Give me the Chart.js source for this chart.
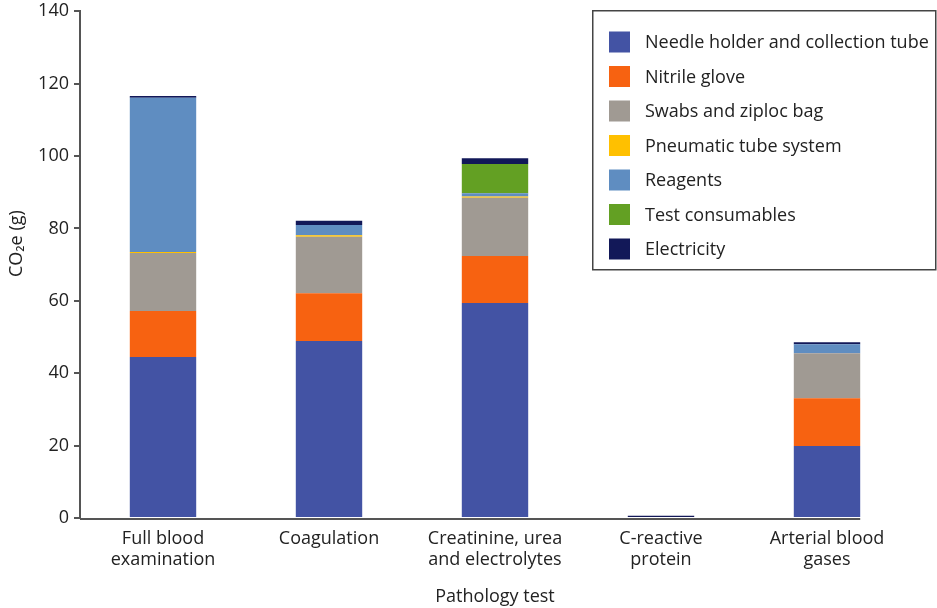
<!DOCTYPE html>
<html>
<head>
<meta charset="utf-8">
<script src="https://cdn.jsdelivr.net/npm/chart.js@4.4.1/dist/chart.umd.min.js"></script>
<style>
  html, body { margin: 0; padding: 0; background: #fff; }
  #wrap { width: 937px; height: 608px; position: relative; }
</style>
</head>
<body>
<div id="wrap"><canvas id="canvasOne"></canvas></div>
<script>
// pathology tests (x axis)
let tests = [["Full blood", "examination"], ["Coagulation"], ["Creatinine, urea", "and electrolytes"], ["C-reactive", "protein"], ["Arterial blood", "gases"]];

// CO2e (g) per component
let needleHolder = [44.5, 48.9, 59.4, 0.3, 19.9];
let nitrileGlove = [12.7, 13.2, 13.0, 0, 13.2];
let swabsBag = [16.0, 15.6, 16.1, 0, 12.4];
let pneumaticTube = [0.3, 0.45, 0.3, 0, 0];
let reagents = [42.6, 2.8, 0.9, 0, 2.5];
let testConsumables = [0, 0, 8.1, 0, 0];
let electricity = [0.5, 1.2, 1.6, 0.3, 0.55];

let yTicks = [0, 20, 40, 60, 80, 100, 120, 140];

let seriesNames = ["Needle holder and collection tube", "Nitrile glove", "Swabs and ziploc bag", "Pneumatic tube system", "Reagents", "Test consumables", "Electricity"];
let seriesColors = ["#4353A4", "#F76211", "#A09A93", "#FFC000", "#5F8DC1", "#63A023", "#121858"];
let seriesData = [needleHolder, nitrileGlove, swabsBag, pneumaticTube, reagents, testConsumables, electricity];

let fontFamily = "'Open Sans', sans-serif";

let datasets = [];
for (let i in seriesNames) {
    datasets.push({
        label: seriesNames[i],
        data: seriesData[i],
        backgroundColor: seriesColors[i],
        borderWidth: 0,
        barPercentage: 0.4,
        categoryPercentage: 1.0
    });
}

// boxed legend sitting over the top right of the plot
let boxLegend = {
    id: 'boxLegend',
    afterDraw(chart) {
        let ctx = chart.ctx;
        ctx.save();
        ctx.strokeStyle = '#444';
        ctx.lineWidth = 1.5;
        ctx.fillStyle = '#fff';
        ctx.fillRect(592, 10, 344, 260);
        ctx.strokeRect(592.75, 10.75, 343, 259);
        ctx.font = "18px " + fontFamily;
        ctx.textBaseline = 'middle';
        chart.data.datasets.forEach(function (ds, i) {
            let y = 42 + i * 34.5;
            ctx.fillStyle = ds.backgroundColor;
            ctx.fillRect(609, y - 10.5, 21, 21);
            ctx.fillStyle = '#222';
            ctx.fillText(ds.label, 645, y + 1);
        });
        ctx.restore();
    }
};

// x axis line runs from the y axis to the right side of the last bar
let xLine = {
    id: 'xLine',
    afterDatasetsDraw(chart) {
        let meta = chart.getDatasetMeta(0);
        let last = meta.data[meta.data.length - 1];
        let ctx = chart.ctx;
        let y = chart.scales.y.getPixelForValue(0);
        ctx.save();
        ctx.strokeStyle = '#555';
        ctx.lineWidth = 2;
        ctx.beginPath();
        ctx.moveTo(chart.chartArea.left, y + 1);
        ctx.lineTo(last.x + last.width / 2, y + 1);
        ctx.stroke();
        ctx.restore();
    }
};

let oneChart = new Chart(document.getElementById('canvasOne').getContext('2d'), {
    type: 'bar',
    data: {
        labels: tests,
        datasets: datasets
    },
    options: {
        responsive: true,
        maintainAspectRatio: false,
        animation: false,
        layout: { padding: { top: 0, right: 27, left: 0, bottom: 0 } },
        plugins: {
            legend: { display: false },
            tooltip: { enabled: false },
            title: { display: false }
        },
        scales: {
            x: {
                stacked: true,
                grid: { display: false },
                border: { display: false },
                ticks: {
                    color: '#222',
                    font: { family: fontFamily, size: 18, lineHeight: 1.17 },
                    padding: 2,
                    maxRotation: 0
                },
                title: {
                    display: true,
                    text: 'Pathology test',
                    color: '#222',
                    font: { family: fontFamily, size: 18 },
                    padding: { top: 10, bottom: 0 }
                },
                afterFit(scale) { scale.height = 90; }
            },
            y: {
                stacked: true,
                min: 0,
                max: 140,
                afterBuildTicks(scale) {
                    scale.ticks = yTicks.map(function (v) { return { value: v }; });
                },
                grid: {
                    drawOnChartArea: false,
                    drawTicks: true,
                    tickLength: 6,
                    color: '#555',
                    lineWidth: 2
                },
                border: { display: true, color: '#555', width: 2 },
                ticks: {
                    color: '#222',
                    // small line height so the top label does not push the plot down
                    font: { family: fontFamily, size: 18, lineHeight: 0.7 },
                    padding: 5
                },
                title: {
                    display: true,
                    // leading spaces lift the rotated title a little above the axis middle
                    text: '         CO\u2082e (g)',
                    color: '#222',
                    font: { family: fontFamily, size: 18 },
                    padding: { top: 6, bottom: 4 }
                },
                afterFit(scale) { scale.width = 80; }
            }
        }
    },
    plugins: [xLine, boxLegend]
});
</script>
</body>
</html>
